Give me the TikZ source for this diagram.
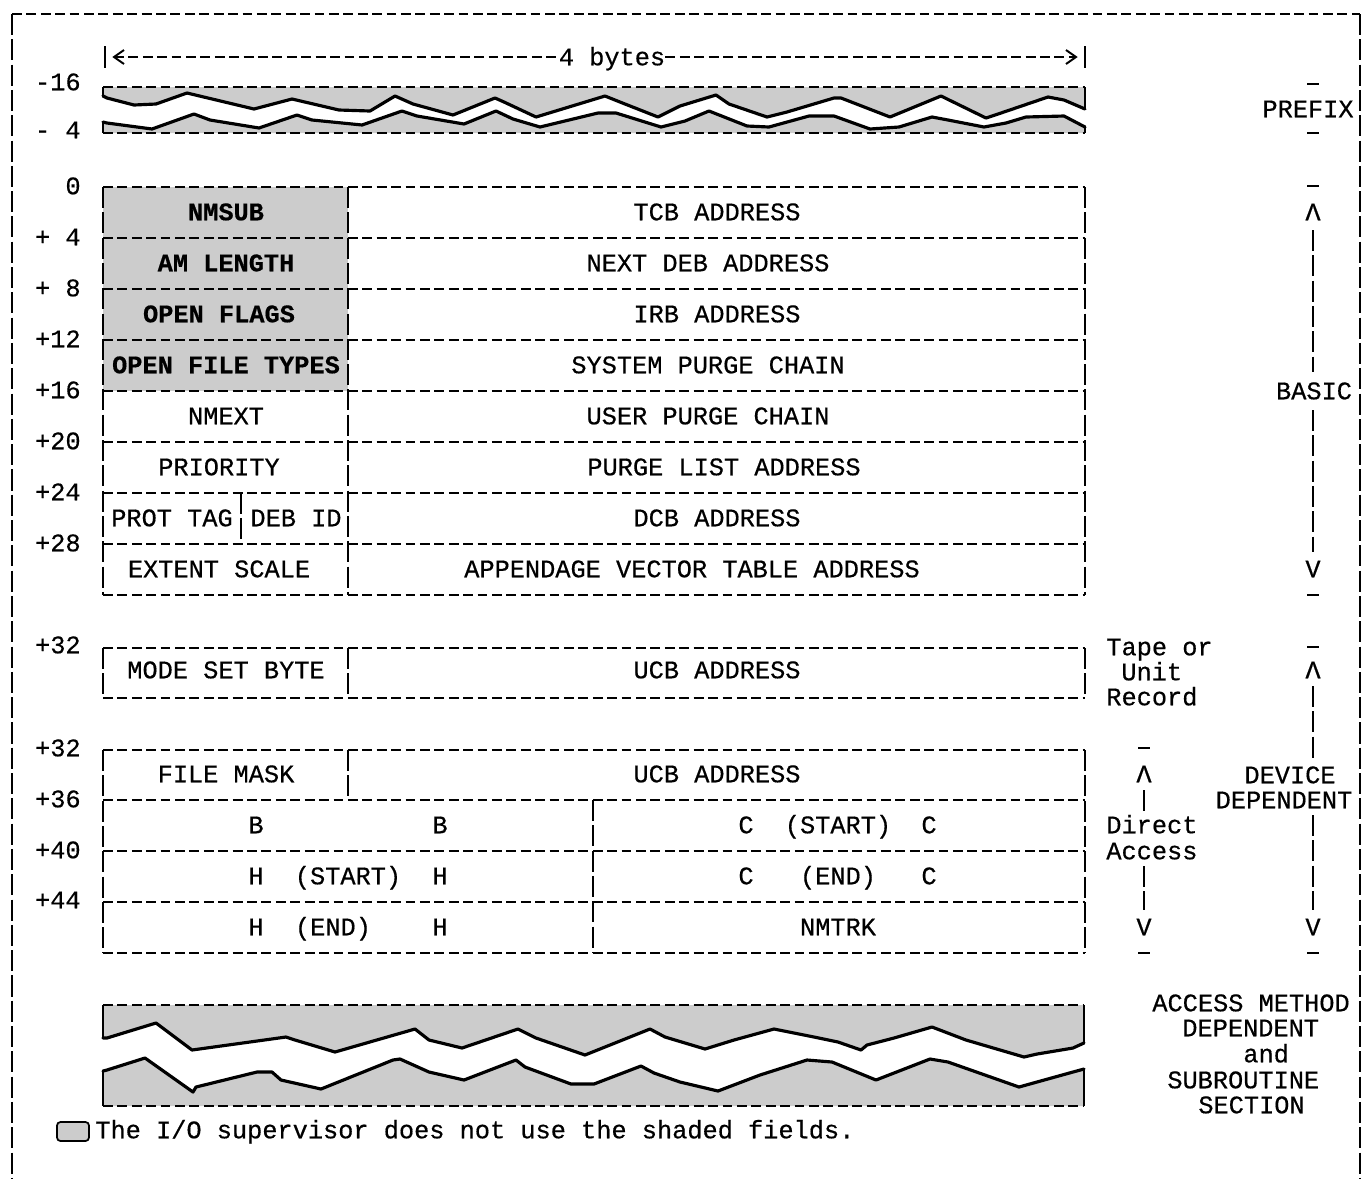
\documentclass[tikz,border=0pt]{standalone}
\usepackage{fontspec}
\setmainfont{Liberation Mono}[FakeBold=0.5]
\usetikzlibrary{arrows.meta}
\tikzset{
  hl/.style={line width=1.1pt, dash pattern=on 5.6pt off 2.6pt},
  vl/.style={line width=1.1pt, dash pattern=on 12pt off 2.4pt},
  wave/.style={line width=1.8pt, line join=round, line cap=round},
  shd/.style={fill=black!20},
  txt/.style={font=\fontsize{14.4}{17}\selectfont, inner sep=0pt, text height=9.4pt, text depth=0pt},
  btxt/.style={font=\fontsize{14.4}{17}\selectfont\bfseries, inner sep=0pt, text height=9.4pt, text depth=0pt},
  tick/.style={line width=1.3pt},
  barb/.style={line width=1.1pt},
}
\def\prefU{(103,96) -- (107,98) -- (134,105) -- (156,104) -- (187,93) -- (254,109) -- (292,99) -- (339,110) -- (370,111) -- (395,96) -- (413,104) -- (453,115) -- (495,98) -- (504,102) -- (536,117) -- (605,96) -- (625,104) -- (658,117) -- (680,106) -- (716,95) -- (729,104) -- (767,117) -- (787,112) -- (834,98) -- (841,98) -- (890,117) -- (941,96) -- (986,118) -- (1001,113) -- (1048,97) -- (1064,100) -- (1085,109)}
\def\prefL{(103,122) -- (107,123) -- (152,129) -- (194,114) -- (210,120) -- (259,128) -- (297,115) -- (312,120) -- (362,125) -- (402,111) -- (417,116) -- (464,124) -- (496,111) -- (513,119) -- (540,127) -- (598,113) -- (616,113) -- (661,127) -- (685,121) -- (709,111) -- (747,126) -- (769,127) -- (809,116) -- (834,116) -- (870,129) -- (899,127) -- (932,117) -- (948,120) -- (984,127) -- (1006,123) -- (1026,117) -- (1064,116) -- (1085,127)}
\def\botU{(103,1038) -- (107,1038) -- (156,1023) -- (192,1050) -- (286,1037) -- (295,1040) -- (335,1052) -- (415,1029) -- (429,1040) -- (462,1048) -- (518,1029) -- (536,1038) -- (585,1055) -- (650,1029) -- (665,1037) -- (705,1049) -- (734,1040) -- (774,1029) -- (814,1037) -- (838,1042) -- (861,1050) -- (867,1045) -- (894,1038) -- (932,1027) -- (966,1040) -- (1024,1057) -- (1037,1054) -- (1073,1048) -- (1084,1043)}
\def\botL{(103,1071) -- (107,1070) -- (145,1058) -- (193,1092) -- (196,1087) -- (257,1072) -- (272,1072) -- (281,1080) -- (321,1089) -- (393,1060) -- (400,1059) -- (429,1072) -- (464,1080) -- (516,1060) -- (525,1067) -- (571,1084) -- (594,1084) -- (641,1066) -- (654,1073) -- (680,1082) -- (718,1091) -- (760,1075) -- (807,1060) -- (832,1062) -- (876,1080) -- (930,1059) -- (948,1062) -- (1019,1087) -- (1037,1082) -- (1073,1072) -- (1084,1069)}
\begin{document}
\begin{tikzpicture}[x=0.02cm,y=-0.02cm]
\useasboundingbox (0,0) rectangle (1372,1178);
% outer frame
\draw[hl] (12,14) -- (1360,14);
\draw[vl] (12,14) -- (12,1178);
\draw[vl] (1360,14) -- (1360,1178);

% header
\node[txt] (bytes) at (612,57) {4 bytes};
\draw[line width=1.1pt] (105,46) -- (105,68);
\draw[line width=1.1pt] (1085,46) -- (1085,68);
\draw[hl] (114,57) -- (bytes.west);
\draw[hl] (bytes.east) -- (1076,57);
\draw[barb] (124,50) -- (114,57) -- (124,64);
\draw[barb] (1066,50) -- (1076,57) -- (1066,64);

% offsets
\foreach \y/\t in {82/-16,130/- 4,186/0,237/+ 4,288/+ 8,339/+12,390/+16,441/+20,492/+24,543/+28,645/+32,748/+32,799/+36,850/+40,900/+44}
  \node[txt, anchor=east] at (81,\y) {\t};

% prefix section
\fill[shd] (103,87) -- \prefU -- (1085,87) -- cycle;
\fill[shd] (103,133) -- \prefL -- (1085,133) -- cycle;
\draw[wave] \prefU;
\draw[wave] \prefL;
\draw[hl] (103,87) -- (1085,87);
\draw[hl] (103,133) -- (1085,133);
\draw[line width=1.1pt] (103,87) -- (103,96);
\draw[line width=1.1pt] (103,122) -- (103,133);
\draw[line width=1.1pt] (1085,87) -- (1085,109);
\draw[line width=1.1pt] (1085,127) -- (1085,133);

% basic section
\fill[shd] (103,187) rectangle (348,391);
\foreach \y in {187,238,289,340,391,442,493,544,595}
  \draw[hl] (103,\y) -- (1085,\y);
\draw[vl] (103,187) -- (103,595);
\draw[vl] (348,187) -- (348,595);
\draw[vl] (1085,187) -- (1085,595);
\draw[vl] (241,493) -- (241,544);

\node[btxt] (nmsub) at (226,212) {NMSUB};
\node[btxt] (amlen) at (226,263) {AM LENGTH};
\node[btxt] (oflag) at (219,314) {OPEN FLAGS};
\node[btxt] (oftyp) at (226,365) {OPEN FILE TYPES};
\node[txt] (nmext) at (226,416) {NMEXT};
\node[txt] (prio) at (219,467) {PRIORITY};
\node[txt] (prot) at (172,518) {PROT TAG};
\node[txt] (debid) at (296,518) {DEB ID};
\node[txt] (exts) at (219,569) {EXTENT SCALE};

\node[txt] (tcb) at (717,212) {TCB ADDRESS};
\node[txt] (ndeb) at (708,263) {NEXT DEB ADDRESS};
\node[txt] (irb) at (717,314) {IRB ADDRESS};
\node[txt] (spc) at (708,365) {SYSTEM PURGE CHAIN};
\node[txt] (upc) at (708,416) {USER PURGE CHAIN};
\node[txt] (pla) at (724,467) {PURGE LIST ADDRESS};
\node[txt] (dcb) at (717,518) {DCB ADDRESS};
\node[txt] (avt) at (692,569) {APPENDAGE VECTOR TABLE ADDRESS};

% tape section
\draw[hl] (103,648) -- (1085,648);
\draw[hl] (103,698) -- (1085,698);
\draw[vl] (103,648) -- (103,698);
\draw[vl] (348,648) -- (348,698);
\draw[vl] (1085,648) -- (1085,698);
\node[txt] (msb) at (226,670) {MODE SET BYTE};
\node[txt] (ucb1) at (717,670) {UCB ADDRESS};

% direct access section
\foreach \y in {750,800,851,902,953}
  \draw[hl] (103,\y) -- (1085,\y);
\draw[vl] (103,750) -- (103,953);
\draw[vl] (1085,750) -- (1085,953);
\draw[vl] (348,750) -- (348,800);
\draw[vl] (593,800) -- (593,953);
\node[txt] (fmask) at (226,774) {FILE MASK};
\node[txt] (ucb2) at (717,774) {UCB ADDRESS};
\node[txt] (b1) at (256,825) {B};
\node[txt] (b2) at (440,825) {B};
\node[txt] (c1) at (746,825) {C};
\node[txt] (cst) at (838,825) {(START)};
\node[txt] (c2) at (929,825) {C};
\node[txt] (h1) at (256,876) {H};
\node[txt] (hst) at (348,876) {(START)};
\node[txt] (h2) at (440,876) {H};
\node[txt] (c3) at (746,876) {C};
\node[txt] (cen) at (838,876) {(END)};
\node[txt] (c4) at (929,876) {C};
\node[txt] (h3) at (256,927) {H};
\node[txt] (hen) at (333,927) {(END)};
\node[txt] (h4) at (440,927) {H};
\node[txt] (nmtrk) at (838,927) {NMTRK};

% bottom torn section
\fill[shd] (103,1005) -- \botU -- (1084,1005) -- cycle;
\fill[shd] (103,1106) -- \botL -- (1084,1106) -- cycle;
\draw[wave] \botU;
\draw[wave] \botL;
\draw[hl] (103,1005) -- (1084,1005);
\draw[hl] (103,1106) -- (1084,1106);
\draw[line width=1.1pt] (103,1005) -- (103,1038);
\draw[line width=1.1pt] (103,1071) -- (103,1106);
\draw[line width=1.1pt] (1084,1005) -- (1084,1043);
\draw[line width=1.1pt] (1084,1069) -- (1084,1106);

% legend
\filldraw[shd, draw=black, line width=1pt, rounded corners=2pt] (57,1122) rectangle (89,1141);
\node[txt, anchor=west] (legend) at (95,1130) {The I/O supervisor does not use the shaded fields.};

% right side annotations
\draw[tick] (1307,84) -- (1319,84);
\node[txt] (prefix) at (1308,109) {PREFIX};
\draw[tick] (1307,133) -- (1319,133);

\draw[tick] (1307,186) -- (1319,186);
\node[txt] (bup) at (1313,212) {Λ};
\node[txt] (basic) at (1314,391) {BASIC};
\node[txt] (bdn) at (1313,569) {V};
\draw[tick] (1307,595) -- (1319,595);
\coordinate (bb1) at (1313,372);
\coordinate (bb2) at (1313,410);
\draw[vl] (1313,230) -- (bb1);
\draw[vl] (bb2) -- (1313,552);

\draw[tick] (1307,647) -- (1319,647);
\node[txt] (dup) at (1313,670) {Λ};
\node[txt] (dev1) at (1290,775) {DEVICE};
\node[txt] (dev2) at (1284,800) {DEPENDENT};
\node[txt] (ddn) at (1313,927) {V};
\draw[tick] (1307,953) -- (1319,953);
\coordinate (dv1) at (1313,758);
\coordinate (dv2) at (1313,815);
\draw[vl] (1313,686) -- (dv1);
\draw[vl] (dv2) -- (1313,910);

\node[txt, anchor=west] (tape) at (1106,647) {Tape or};
\node[txt, anchor=west] (unit) at (1121,672) {Unit};
\node[txt, anchor=west] (rec) at (1106,697) {Record};

\draw[tick] (1138,748) -- (1150,748);
\node[txt] (aup) at (1144,774) {Λ};
\node[txt, anchor=west] (direct) at (1106,825) {Direct};
\node[txt, anchor=west] (access) at (1106,851) {Access};
\node[txt] (adn) at (1144,927) {V};
\draw[tick] (1138,953) -- (1150,953);
\draw[vl] (1144,790) -- (1144,811);
\draw[vl] (1144,866) -- (1144,910);

\node[txt, anchor=west] (am1) at (1152,1003) {ACCESS METHOD};
\node[txt, anchor=west] (am2) at (1182,1028) {DEPENDENT};
\node[txt, anchor=west] (am3) at (1243,1054) {and};
\node[txt, anchor=west] (am4) at (1167,1080) {SUBROUTINE};
\node[txt, anchor=west] (am5) at (1198,1105) {SECTION};
\end{tikzpicture}
\end{document}
